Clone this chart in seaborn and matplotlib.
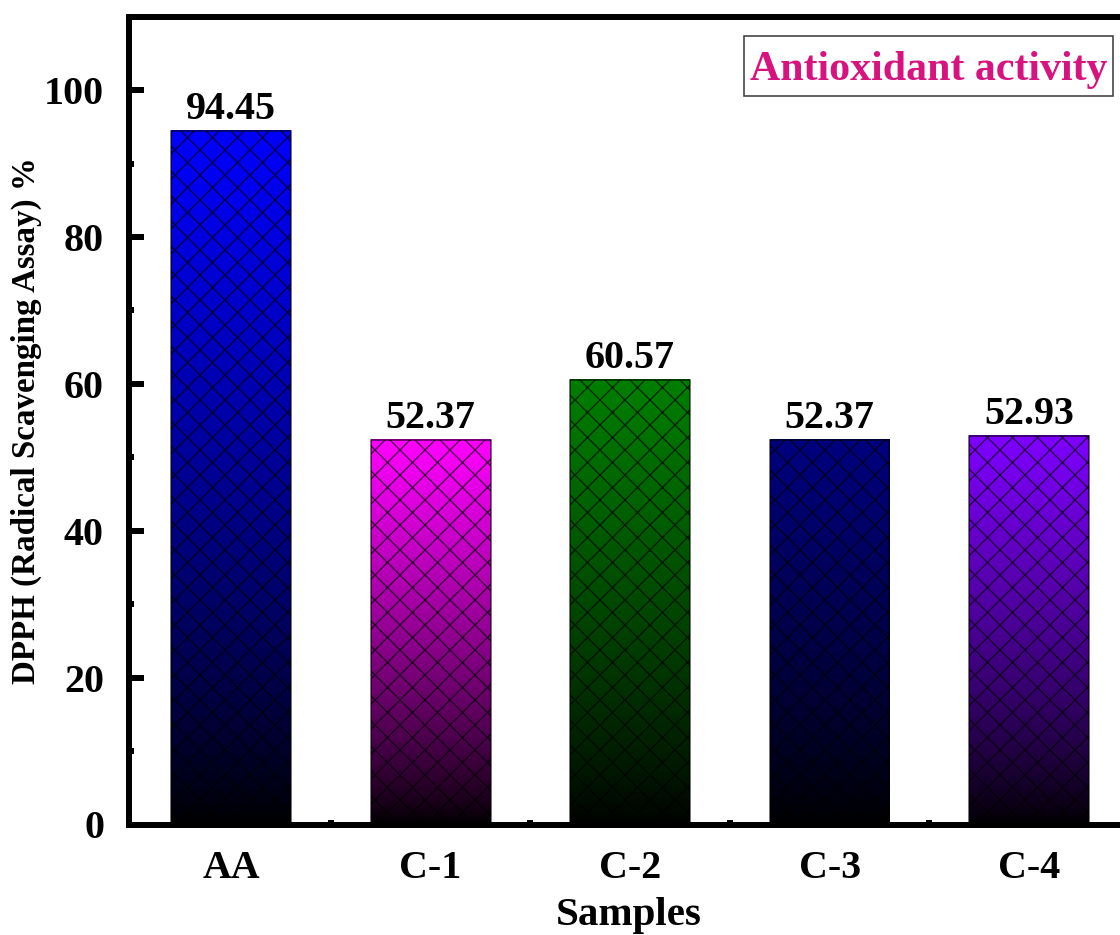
import numpy as np
import pandas as pd
import matplotlib
matplotlib.use("Agg")
import matplotlib.pyplot as plt
import seaborn as sns
from matplotlib.colors import LinearSegmentedColormap
from matplotlib.ticker import MultipleLocator, FixedLocator
from matplotlib.patches import Rectangle

# ---- data ----
samples = ["AA", "C-1", "C-2", "C-3", "C-4"]
values = [94.45, 52.37, 60.57, 52.37, 52.93]
bar_colors = ["#0000FF", "#FF00FF", "#007F00", "#00007F", "#7F00FF"]
y_ticks = [0, 20, 40, 60, 80, 100]
legend_text = "Antioxidant activity"

DPI = 150


def P(px):
    """pixel size -> points at the chosen dpi"""
    return px * 72.0 / DPI


sns.set_theme(style="ticks")
plt.rcParams["font.family"] = ["Liberation Serif", "DejaVu Serif"]
plt.rcParams["font.weight"] = "bold"
plt.rcParams["axes.labelweight"] = "bold"
plt.rcParams["text.color"] = "black"
plt.rcParams["axes.labelcolor"] = "black"
plt.rcParams["xtick.color"] = "black"
plt.rcParams["ytick.color"] = "black"
plt.rcParams["xtick.labelcolor"] = "black"
plt.rcParams["ytick.labelcolor"] = "black"
plt.rcParams["hatch.linewidth"] = P(1.3)

fig = plt.figure(figsize=(1120 / DPI, 935 / DPI), dpi=DPI)
fig.patch.set_facecolor("white")

# axes geometry (right edge intentionally beyond figure, as in reference)
left_px, right_px = 129, 1128.75
bot_px, top_px = 824.5, 16.7
ax = fig.add_axes([left_px / 1120, (935 - bot_px) / 935,
                   (right_px - left_px) / 1120, (bot_px - top_px) / 935])
ax.set_facecolor("white")

df = pd.DataFrame({"Samples": samples, "value": values})
sns.barplot(data=df, x="Samples", y="value", hue="Samples",
            palette=bar_colors, width=0.6, legend=False, ax=ax,
            saturation=1, errorbar=None)

# gradient fill + crosshatch
for patch, col in zip(ax.patches, bar_colors):
    x0 = patch.get_x()
    w = patch.get_width()
    h = patch.get_height()
    cmap = LinearSegmentedColormap.from_list("g", ["#000000", col])
    grad = np.linspace(0, 1, 256).reshape(-1, 1) ** 0.8
    ax.imshow(grad, extent=[x0, x0 + w, 0, h], origin="lower", cmap=cmap,
              vmin=0, vmax=1, aspect="auto", zorder=1,
              interpolation="bilinear")
    patch.set_facecolor("none")
    patch.set_edgecolor((0, 0, 0, 0.7))
    patch.set_linewidth(P(1.5))
    patch.set_hatch("xx")
    patch.set_zorder(1.5)

ax.set_xlim(-0.5 - 2.5 / 200.5, 4.5)
ax.set_ylim(0, 110)
ax.set_yticks(y_ticks)
ax.yaxis.set_minor_locator(MultipleLocator(10))
ax.xaxis.set_minor_locator(FixedLocator([0.5, 1.5, 2.5, 3.5]))

# bar labels
for patch, v in zip(ax.patches, values):
    ax.annotate(f"{v:.2f}", (patch.get_x() + patch.get_width() / 2, v),
                xytext=(0, P(3)), textcoords="offset points",
                ha="center", va="bottom", fontsize=P(40), fontweight="bold",
                color="black", zorder=3)

for s in ax.spines.values():
    s.set_linewidth(P(6))
    s.set_color("black")
    s.set_zorder(3)

ax.tick_params(axis="both", which="major", direction="in", length=P(15),
               width=P(6), color="black", labelcolor="black",
               labelsize=P(40), pad=P(25), top=False, right=False)
ax.tick_params(axis="both", which="minor", direction="in", length=P(5),
               width=P(6), color="black", top=False, right=False)
ax.tick_params(axis="x", which="major", pad=P(26))

ax.set_xlabel("Samples", fontsize=P(41), fontweight="bold", labelpad=P(9),
              color="black")
ax.set_ylabel("DPPH (Radical Scavenging Assay) %", fontsize=P(33),
              fontweight="bold", labelpad=P(2), color="black")

# legend-like text box
bx0 = (744 - left_px) / (right_px - left_px)
bx1 = (1113 - left_px) / (right_px - left_px)
by0 = (bot_px - 96) / (bot_px - top_px)
by1 = (bot_px - 36) / (bot_px - top_px)
ax.add_patch(Rectangle((bx0, by0), bx1 - bx0, by1 - by0, transform=ax.transAxes,
                       facecolor="white", edgecolor="#404040",
                       linewidth=P(1.6), zorder=4))
ax.text((bx0 + bx1) / 2, (bot_px - 80) / (bot_px - top_px), legend_text,
        transform=ax.transAxes, ha="center", va="baseline", fontsize=P(42),
        fontweight="bold", color="#D6137F", zorder=5)

fig.savefig("out.png", dpi=DPI, facecolor="white")
